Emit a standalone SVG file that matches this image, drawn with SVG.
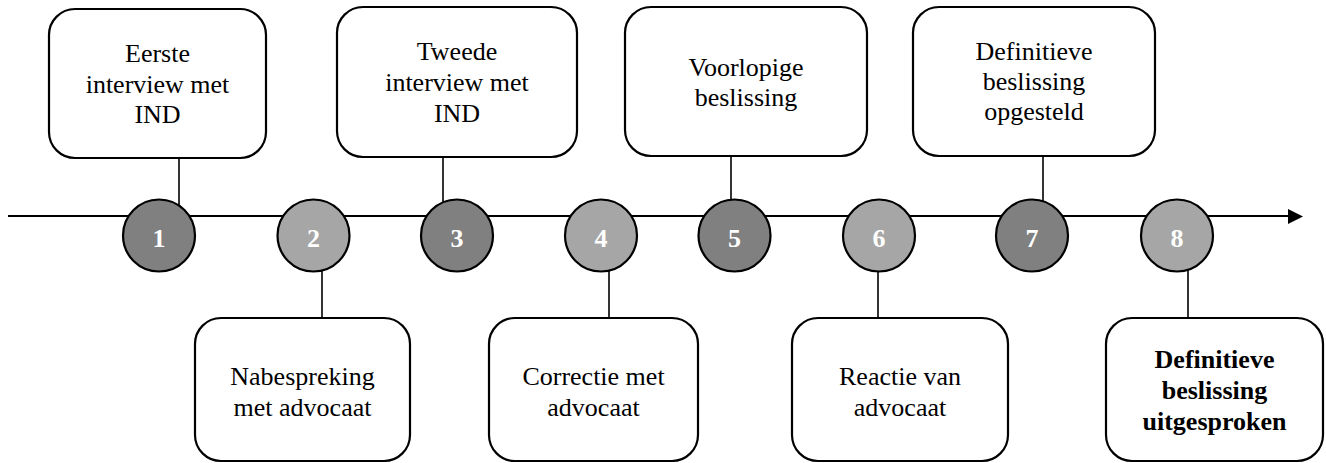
<svg xmlns="http://www.w3.org/2000/svg" width="1326" height="463" viewBox="0 0 1326 463">
<style>
.box{fill:#fff;stroke:#000;stroke-width:2.2}
.con{stroke:#000;stroke-width:1.6;fill:none}
.dk{fill:#808080;stroke:#000;stroke-width:2.2}
.lt{fill:#a6a6a6;stroke:#000;stroke-width:2.2}
.num{font-family:"Liberation Serif",serif;font-size:26px;font-weight:bold;fill:#fff;text-anchor:middle}
.lbl{font-family:"Liberation Serif",serif;font-size:26px;fill:#000;text-anchor:middle}
.bold{font-weight:bold}
</style>
<g id="connectors">
<line x1="8" y1="216" x2="1290" y2="216" stroke="#000" stroke-width="2"/>
<polygon points="1288,209 1303,216.5 1288,224" fill="#000"/>
<line class="con" x1="179" y1="158" x2="179" y2="215"/>
<line class="con" x1="443" y1="157" x2="443" y2="215"/>
<line class="con" x1="731" y1="156" x2="731" y2="215"/>
<line class="con" x1="1043" y1="156" x2="1043" y2="215"/>
<line class="con" x1="322" y1="250" x2="322" y2="318"/>
<line class="con" x1="609" y1="250" x2="609" y2="318"/>
<line class="con" x1="878" y1="250" x2="878" y2="318"/>
<line class="con" x1="1188" y1="250" x2="1188" y2="318"/>
</g>
<g id="c1"><circle class="dk" cx="159" cy="235.5" r="36"/><text class="num" x="159" y="247">1</text></g>
<g id="c2"><circle class="lt" cx="313.5" cy="235.5" r="36"/><text class="num" x="313.5" y="247">2</text></g>
<g id="c3"><circle class="dk" cx="457" cy="235.5" r="36"/><text class="num" x="457" y="247">3</text></g>
<g id="c4"><circle class="lt" cx="601" cy="235.5" r="36"/><text class="num" x="601" y="247">4</text></g>
<g id="c5"><circle class="dk" cx="734.5" cy="235.5" r="36"/><text class="num" x="734.5" y="247">5</text></g>
<g id="c6"><circle class="lt" cx="879" cy="235.5" r="36"/><text class="num" x="879" y="247">6</text></g>
<g id="c7"><circle class="dk" cx="1032" cy="235.5" r="36"/><text class="num" x="1032" y="247">7</text></g>
<g id="c8"><circle class="lt" cx="1177" cy="235.5" r="36"/><text class="num" x="1177" y="247">8</text></g>
<g id="b1"><rect class="box" x="49" y="9" width="217" height="149" rx="26"/>
<text class="lbl" x="157.5" y="62">Eerste</text><text class="lbl" x="157.5" y="93">interview met</text><text class="lbl" x="157.5" y="123">IND</text></g>
<g id="b3"><rect class="box" x="337" y="7" width="240" height="150" rx="26"/>
<text class="lbl" x="457" y="60">Tweede</text><text class="lbl" x="457" y="91">interview met</text><text class="lbl" x="457" y="122">IND</text></g>
<g id="b5"><rect class="box" x="625" y="7" width="242" height="149" rx="26"/>
<text class="lbl" x="746" y="76">Voorlopige</text><text class="lbl" x="746" y="106">beslissing</text></g>
<g id="b7"><rect class="box" x="913" y="7" width="242" height="149" rx="26"/>
<text class="lbl" x="1034" y="60">Definitieve</text><text class="lbl" x="1034" y="90">beslissing</text><text class="lbl" x="1034" y="120">opgesteld</text></g>
<g id="b2"><rect class="box" x="195" y="318" width="215" height="143" rx="26"/>
<text class="lbl" x="302.5" y="385">Nabespreking</text><text class="lbl" x="302.5" y="416">met advocaat</text></g>
<g id="b4"><rect class="box" x="489" y="318" width="209" height="143" rx="26"/>
<text class="lbl" x="593.5" y="385">Correctie met</text><text class="lbl" x="593.5" y="416">advocaat</text></g>
<g id="b6"><rect class="box" x="792" y="318" width="216" height="143" rx="26"/>
<text class="lbl" x="900" y="385">Reactie van</text><text class="lbl" x="900" y="416">advocaat</text></g>
<g id="b8"><rect class="box" x="1106" y="318" width="217" height="143" rx="26"/>
<text class="lbl bold" x="1214.5" y="368">Definitieve</text><text class="lbl bold" x="1214.5" y="399">beslissing</text><text class="lbl bold" x="1214.5" y="430">uitgesproken</text></g>
</svg>
